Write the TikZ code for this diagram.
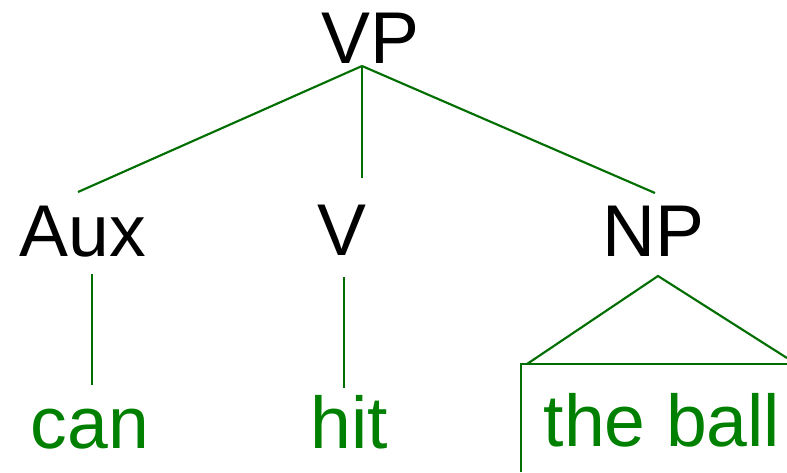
\documentclass[tikz,border=0pt]{standalone}
\usepackage{fontspec}
\setmainfont{Liberation Sans}
\definecolor{branch}{RGB}{0,110,0}
\definecolor{leaf}{RGB}{0,128,0}
\begin{document}
\begin{tikzpicture}[x=0.75pt,y=-0.75pt,
  cat/.style={inner sep=0pt,anchor=base,font=\fontsize{55}{60}\selectfont,text=black},
  word/.style={cat,text=leaf},
  edge/.style={draw=branch,line width=1.6pt}]
\useasboundingbox (0,0) rectangle (787,472);
% category labels
\node[cat] (vp) at (370,63) {VP};
\node[cat] (aux) at (83,256) {Aux};
\node[cat] (v) at (342,255) {V};
\node[cat] (np) at (653,256) {NP};
% words
\node[word] (can) at (90,448) {can};
\node[word] (hit) at (349,448) {hit};
\node[word] (ball) at (662,446) {the ball};
% branch end points
\coordinate (vpfoot) at (362,66);
\coordinate (auxtop) at (78,192);
\coordinate (vtop) at (362,178);
\coordinate (nptop) at (655,193);
\coordinate (auxfoot) at (92,274);
\coordinate (canhead) at (92,385);
\coordinate (vfoot) at (344,277);
\coordinate (hithead) at (344,388);
\coordinate (npfoot) at (658,276);
\coordinate (triL) at (527,364);
\coordinate (triR) at (787,358);
\coordinate (boxL) at (521,364);
\coordinate (boxR) at (787,364);
\coordinate (boxB) at (521,472);
% branches
\draw[edge] (vpfoot) -- (auxtop);
\draw[edge] (vpfoot) -- (vtop);
\draw[edge] (vpfoot) -- (nptop);
\draw[edge] (auxfoot) -- (canhead);
\draw[edge] (vfoot) -- (hithead);
% triangle over the phrase
\draw[edge] (triL) -- (npfoot) -- (triR);
\draw[edge] (boxR) -- (boxL) -- (boxB);
\end{tikzpicture}
\end{document}
